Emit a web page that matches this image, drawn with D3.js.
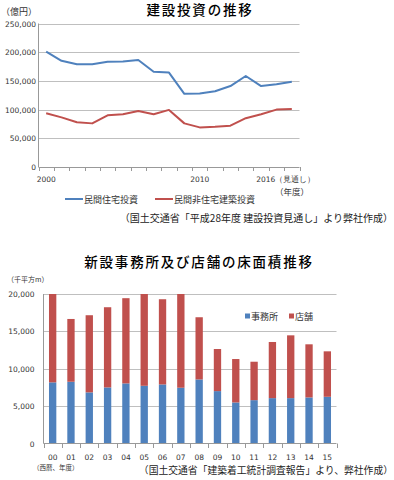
<!DOCTYPE html>
<html>
<head>
<meta charset="utf-8">
<script src="https://cdn.jsdelivr.net/npm/d3@7"></script>
<style>
  body { margin: 0; background: #fff; }
  svg { display: block; font-family: "Noto Sans CJK JP", "DejaVu Sans", sans-serif; }
  .num { font-family: "DejaVu Sans", sans-serif; fill: #333; }
  .grid line { stroke: #bfbfbf; stroke-width: 1; }
</style>
</head>
<body>
<svg id="chart" width="394" height="480"></svg>
<script>
// 建設投資の推移 (億円)
const years = ["2000", "2001", "2002", "2003", "2004", "2005", "2006", "2007", "2008",
  "2009", "2010", "2011", "2012", "2013", "2014", "2015", "2016"]
const housing = [201000, 185000, 179000, 179000, 183500, 184000, 186500, 166000, 164500,
  127500, 128000, 132000, 141000, 158500, 141000, 144000, 148500]
const nonHousing = [93500, 86500, 78000, 76000, 90000, 92000, 97500, 92000, 99500,
  76000, 69000, 70000, 72000, 85000, 92000, 100000, 101000]
const yearLabels = { "2000": "2000", "2010": "2010", "2016": "2016（見通し）" }
const investTicks = [0, 50000, 100000, 150000, 200000, 250000]

// 新設事務所及び店舗の床面積 (千平方m)
const fy = ["00", "01", "02", "03", "04", "05", "06", "07", "08", "09", "10", "11", "12", "13", "14", "15"]
const office = [8180, 8260, 6840, 7500, 8040, 7720, 7900, 7460, 8570, 7010, 5490, 5800, 6070, 6070, 6160, 6250]
const store = [12300, 8400, 10320, 10730, 11400, 12600, 11400, 12800, 8320, 5630, 5810, 5140, 7510, 8400, 7110, 6080]
const areaTicks = [0, 5000, 10000, 15000, 20000]

const blue = "#4f81bd"
const red = "#c0504d"
const svg = d3.select("#chart")

// ---------- top: line chart ----------
const x1 = d3.scaleBand().domain(years).range([38.5, 299.5])
const y1 = d3.scaleLinear().domain([0, 250000]).range([167, 23.5])

svg.append("text").attr("x", 200).attr("y", 15).attr("text-anchor", "middle")
  .attr("font-size", 13.5).attr("font-weight", 500).attr("letter-spacing", 1.8)
  .text("建設投資の推移")
svg.append("text").attr("x", 1).attr("y", 15).attr("font-size", 9).attr("fill", "#333").text("（億円）")

svg.append("g").attr("class", "grid")
  .selectAll("line").data(investTicks.filter((d) => d > 0)).join("line")
  .attr("x1", 38.5).attr("x2", 299.5).attr("y1", (d) => Math.round(y1(d)) + 0.5).attr("y2", (d) => Math.round(y1(d)) + 0.5)

svg.append("g").selectAll("text").data(investTicks).join("text")
  .attr("class", "num").attr("font-size", 7.5).attr("text-anchor", "end")
  .attr("x", 36).attr("y", (d) => y1(d) + 3)
  .text((d) => d3.format(",")(d))

// axes lines
svg.append("line").attr("x1", 38.5).attr("x2", 38.5).attr("y1", 23.5).attr("y2", 167).attr("stroke", "#999")
svg.append("line").attr("x1", 38.5).attr("x2", 299.5).attr("y1", 167.5).attr("y2", 167.5).attr("stroke", "#999")
svg.append("g").selectAll("line").data(years.concat(["end"])).join("line")
  .attr("x1", (d, i) => Math.round(38.5 + i * x1.step()) + 0.5)
  .attr("x2", (d, i) => Math.round(38.5 + i * x1.step()) + 0.5)
  .attr("y1", 167).attr("y2", 171).attr("stroke", "#999")

svg.append("g").selectAll("text").data(years.filter((d) => yearLabels[d])).join("text")
  .attr("class", "num").attr("font-size", 7.5).attr("text-anchor", "middle")
  .attr("x", (d) => x1(d) + x1.bandwidth() / 2 + (d === "2016" ? -6 : 0))
  .attr("y", 182)
  .text((d) => yearLabels[d])
svg.append("text").attr("x", 292).attr("y", 195).attr("text-anchor", "middle")
  .attr("font-size", 8.5).attr("fill", "#333").text("（年度）")

const line1 = d3.line().x((d, i) => x1(years[i]) + x1.bandwidth() / 2).y((d) => y1(d))
svg.append("path").datum(housing).attr("d", line1).attr("fill", "none")
  .attr("stroke", blue).attr("stroke-width", 2).attr("stroke-linejoin", "round")
svg.append("path").datum(nonHousing).attr("d", line1).attr("fill", "none")
  .attr("stroke", red).attr("stroke-width", 2).attr("stroke-linejoin", "round")

// legend
const legend1 = [{ name: "民間住宅投資", color: blue, x: 65 }, { name: "民間非住宅建築投資", color: red, x: 155 }]
const lg1 = svg.append("g").selectAll("g").data(legend1).join("g")
  .attr("transform", (d) => `translate(${d.x},199)`)
lg1.append("line").attr("x1", 0).attr("x2", 18).attr("stroke", (d) => d.color).attr("stroke-width", 2)
lg1.append("text").attr("x", 19).attr("y", 3.5).attr("font-size", 9).attr("fill", "#333").text((d) => d.name)

svg.append("text").attr("x", 393).attr("y", 222).attr("text-anchor", "end")
  .attr("font-size", 10).attr("fill", "#222")
  .text("（国土交通省「平成28年度 建設投資見通し」より弊社作成）")

// ---------- bottom: stacked bars ----------
const x2 = d3.scaleBand().domain(fy).range([43.5, 336.5]).paddingInner(0.6).paddingOuter(0.3)
const y2 = d3.scaleLinear().domain([0, 20000]).range([443.5, 294])

svg.append("text").attr("x", 199).attr("y", 267).attr("text-anchor", "middle")
  .attr("font-size", 13.5).attr("font-weight", 500).attr("letter-spacing", 1.8)
  .text("新設事務所及び店舗の床面積推移")
svg.append("text").attr("x", 7).attr("y", 282).attr("font-size", 7).attr("fill", "#333").text("（千平方m）")

svg.append("g").attr("class", "grid")
  .selectAll("line").data(areaTicks.filter((d) => d > 0)).join("line")
  .attr("x1", 43.5).attr("x2", 336.5).attr("y1", (d) => Math.round(y2(d)) + 0.5).attr("y2", (d) => Math.round(y2(d)) + 0.5)

svg.append("g").selectAll("text").data(areaTicks).join("text")
  .attr("class", "num").attr("font-size", 7.5).attr("text-anchor", "end")
  .attr("x", 34.5).attr("y", (d) => y2(d) + 3)
  .text((d) => d3.format(",")(d))

svg.append("defs").append("clipPath").attr("id", "plot2")
  .append("rect").attr("x", 43.5).attr("y", y2(20000)).attr("width", 293).attr("height", y2(0) - y2(20000))

const stack = d3.stack().keys(["office", "store"])(fy.map((d, i) => ({ fy: d, office: office[i], store: store[i] })))
svg.append("g").attr("clip-path", "url(#plot2)")
  .selectAll("g").data(stack).join("g")
  .attr("fill", (d) => (d.key === "office" ? blue : red))
  .selectAll("rect").data((d) => d).join("rect")
  .attr("x", (d) => x2(d.data.fy))
  .attr("width", x2.bandwidth())
  .attr("y", (d) => y2(d[1]))
  .attr("height", (d) => y2(d[0]) - y2(d[1]))

svg.append("line").attr("x1", 43.5).attr("x2", 43.5).attr("y1", 294).attr("y2", 443.5).attr("stroke", "#999")
svg.append("line").attr("x1", 43.5).attr("x2", 336.5).attr("y1", 443.5).attr("y2", 443.5).attr("stroke", "#999")
svg.append("g").selectAll("line").data(fy.concat(["end"])).join("line")
  .attr("x1", (d, i) => Math.round(43.5 + i * x2.step()) + 0.5)
  .attr("x2", (d, i) => Math.round(43.5 + i * x2.step()) + 0.5)
  .attr("y1", 443.5).attr("y2", 448).attr("stroke", "#999")

svg.append("g").selectAll("text").data(fy).join("text")
  .attr("class", "num").attr("font-size", 7.5).attr("text-anchor", "middle")
  .attr("x", (d) => x2(d) + x2.bandwidth() / 2).attr("y", 460)
  .text((d) => d)
svg.append("text").attr("x", 33).attr("y", 470).attr("font-size", 6.5).attr("fill", "#333").text("（西暦、年度）")

const legend2 = [{ name: "事務所", color: blue, x: 245 }, { name: "店舗", color: red, x: 289 }]
const lg2 = svg.append("g").selectAll("g").data(legend2).join("g")
  .attr("transform", (d) => `translate(${d.x},316)`)
lg2.append("rect").attr("x", 0).attr("y", -2.5).attr("width", 5).attr("height", 5).attr("fill", (d) => d.color)
lg2.append("text").attr("x", 6).attr("y", 3.5).attr("font-size", 9).attr("fill", "#333").text((d) => d.name)

svg.append("text").attr("x", 393).attr("y", 474).attr("text-anchor", "end")
  .attr("font-size", 9.8).attr("fill", "#222")
  .text("（国土交通省「建築着工統計調査報告」より、弊社作成）")
</script>
</body>
</html>
